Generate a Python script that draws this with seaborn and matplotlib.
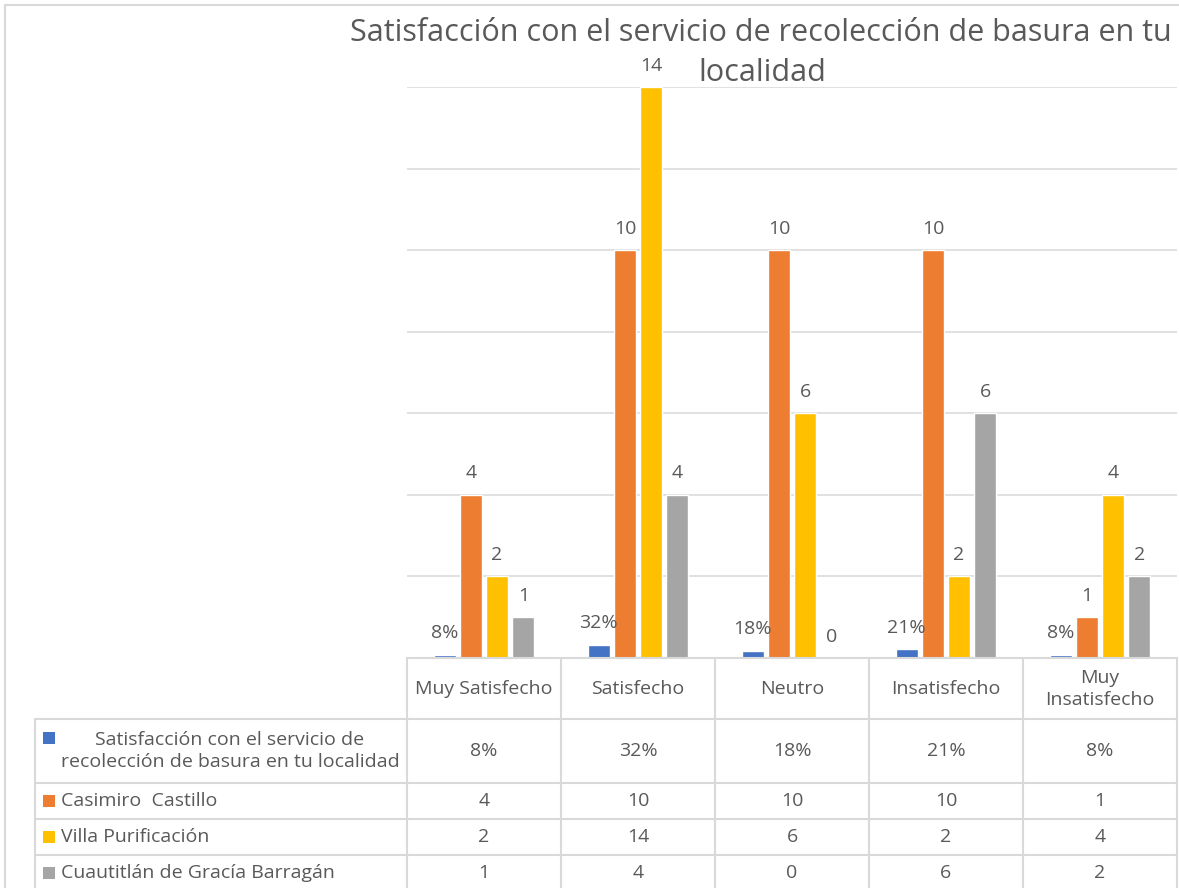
import numpy as np
import pandas as pd
import matplotlib
matplotlib.use("Agg")
import matplotlib.pyplot as plt
import matplotlib.transforms as mtransforms
from matplotlib.patches import Rectangle
import seaborn as sns

# ---------------- data ----------------
categories = ["Muy Satisfecho", "Satisfecho", "Neutro", "Insatisfecho", "Muy Insatisfecho"]
category_labels = ["Muy Satisfecho", "Satisfecho", "Neutro", "Insatisfecho", "Muy\nInsatisfecho"]
series_names = [
    "Satisfacción con el servicio de recolección de basura en tu localidad",
    "Casimiro  Castillo",
    "Villa Purificación",
    "Cuautitlán de Gracía Barragán",
]
satisfaccion_pct = [0.08, 0.32, 0.18, 0.21, 0.08]
casimiro = [4, 10, 10, 10, 1]
villa = [2, 14, 6, 2, 4]
cuautitlan = [1, 4, 0, 6, 2]
title_lines = ["Satisfacción con el servicio de recolección de basura en tu", "localidad"]
colors = ["#4472C4", "#ED7D31", "#FFC000", "#A5A5A5"]

series_values = [satisfaccion_pct, casimiro, villa, cuautitlan]
series_text = [
    [f"{round(v * 100)}%" for v in satisfaccion_pct],
    [str(v) for v in casimiro],
    [str(v) for v in villa],
    [str(v) for v in cuautitlan],
]

df = pd.DataFrame(
    [(c, s, v) for s, vals in zip(series_names, series_values) for c, v in zip(categories, vals)],
    columns=["categoria", "serie", "valor"],
)

# ---------------- style ----------------
sns.set_style("white")
plt.rcParams["font.family"] = ["Open Sans", "DejaVu Sans"]
TXT = "#595959"
GRID = "#D9D9D9"

W, H = 1179, 888
fig = plt.figure(figsize=(W / 100, H / 100), dpi=100)

def fx(px):
    return px / W

def fy(py):
    return 1 - py / H

ax_left, ax_right, ax_top, ax_bottom = 407, 1177, 87, 658
ax = fig.add_axes([fx(ax_left), fy(ax_bottom), fx(ax_right - ax_left), (ax_bottom - ax_top) / H])

sns.barplot(
    data=df, x="categoria", y="valor", hue="serie",
    order=categories, hue_order=series_names, palette=colors,
    width=0.68, gap=0.16, saturation=1, legend=False, ax=ax,
)
ax.set_xlim(-0.5, len(categories) - 0.5)
ax.set_ylim(0, 14)
ax.set_yticks(np.arange(0, 15, 2))
ax.yaxis.grid(True, color=GRID, linewidth=1.1)
ax.set_axisbelow(True)
ax.set_xticks([])
ax.tick_params(left=False, labelleft=False, bottom=False)
ax.set_xlabel("")
ax.set_ylabel("")
for sp in ax.spines.values():
    sp.set_visible(False)

for cont, labels in zip(ax.containers, series_text):
    ax.bar_label(cont, labels=labels, padding=9, fontsize=14, color=TXT, clip_on=False)

# ---------------- title ----------------
fig.text(fx(761), fy(33), title_lines[0], ha="center", va="center", fontsize=22, color=TXT)
fig.text(fx(762), fy(73), title_lines[1], ha="center", va="center", fontsize=22, color=TXT)

# ---------------- figure border ----------------
fig.patches.append(Rectangle((fx(5), fy(H + 20)), fx(W + 20), (H + 15) / H,
                             transform=fig.transFigure, fill=False,
                             edgecolor=GRID, linewidth=1.5, zorder=0))

# ---------------- data table ----------------
trans = mtransforms.blended_transform_factory(ax.transData, fig.transFigure)
row_edges = [658, 719, 783, 819, 855, 891]
left_col = 35
lw = 1.5
# horizontal lines
fig.add_artist(plt.Line2D([fx(ax_left), fx(ax_right)], [fy(658)] * 2, color=GRID, lw=lw))
for yy in row_edges[1:]:
    fig.add_artist(plt.Line2D([fx(left_col), fx(ax_right)], [fy(yy)] * 2, color=GRID, lw=lw))
# vertical lines
fig.add_artist(plt.Line2D([fx(left_col)] * 2, [fy(719), fy(891)], color=GRID, lw=lw))
for i in range(len(categories) + 1):
    xb = i - 0.5
    fig.add_artist(plt.Line2D([xb, xb], [fy(658), fy(891)], color=GRID, lw=lw, transform=trans))

FS = 14
# header row
for i, lab in enumerate(category_labels):
    fig.text(i, fy(689), lab, transform=trans, ha="center", va="center",
             fontsize=FS, color=TXT, linespacing=1.3)

# value rows
for r, texts in enumerate(series_text):
    yc = (row_edges[r + 1] + row_edges[r + 2]) / 2
    for i, t in enumerate(texts):
        fig.text(i, fy(yc), t, transform=trans, ha="center", va="center",
                 fontsize=FS, color=TXT)

# row headers with legend keys
sq = 12
for r, (name, col) in enumerate(zip(series_names, colors)):
    y0, y1 = row_edges[r + 1], row_edges[r + 2]
    if r == 0:
        kc = 738
        fig.text(fx(230), fy(751), "Satisfacción con el servicio de\nrecolección de basura en tu localidad",
                 ha="center", va="center", fontsize=FS, color=TXT, linespacing=1.25)
    else:
        kc = (y0 + y1) / 2
        fig.text(fx(61), fy(kc), name, ha="left", va="center", fontsize=FS, color=TXT)
    fig.patches.append(Rectangle((fx(43), fy(kc + sq / 2)), fx(sq), sq / H,
                                 transform=fig.transFigure, facecolor=col, edgecolor="none"))

fig.savefig("out.png", dpi=100)
